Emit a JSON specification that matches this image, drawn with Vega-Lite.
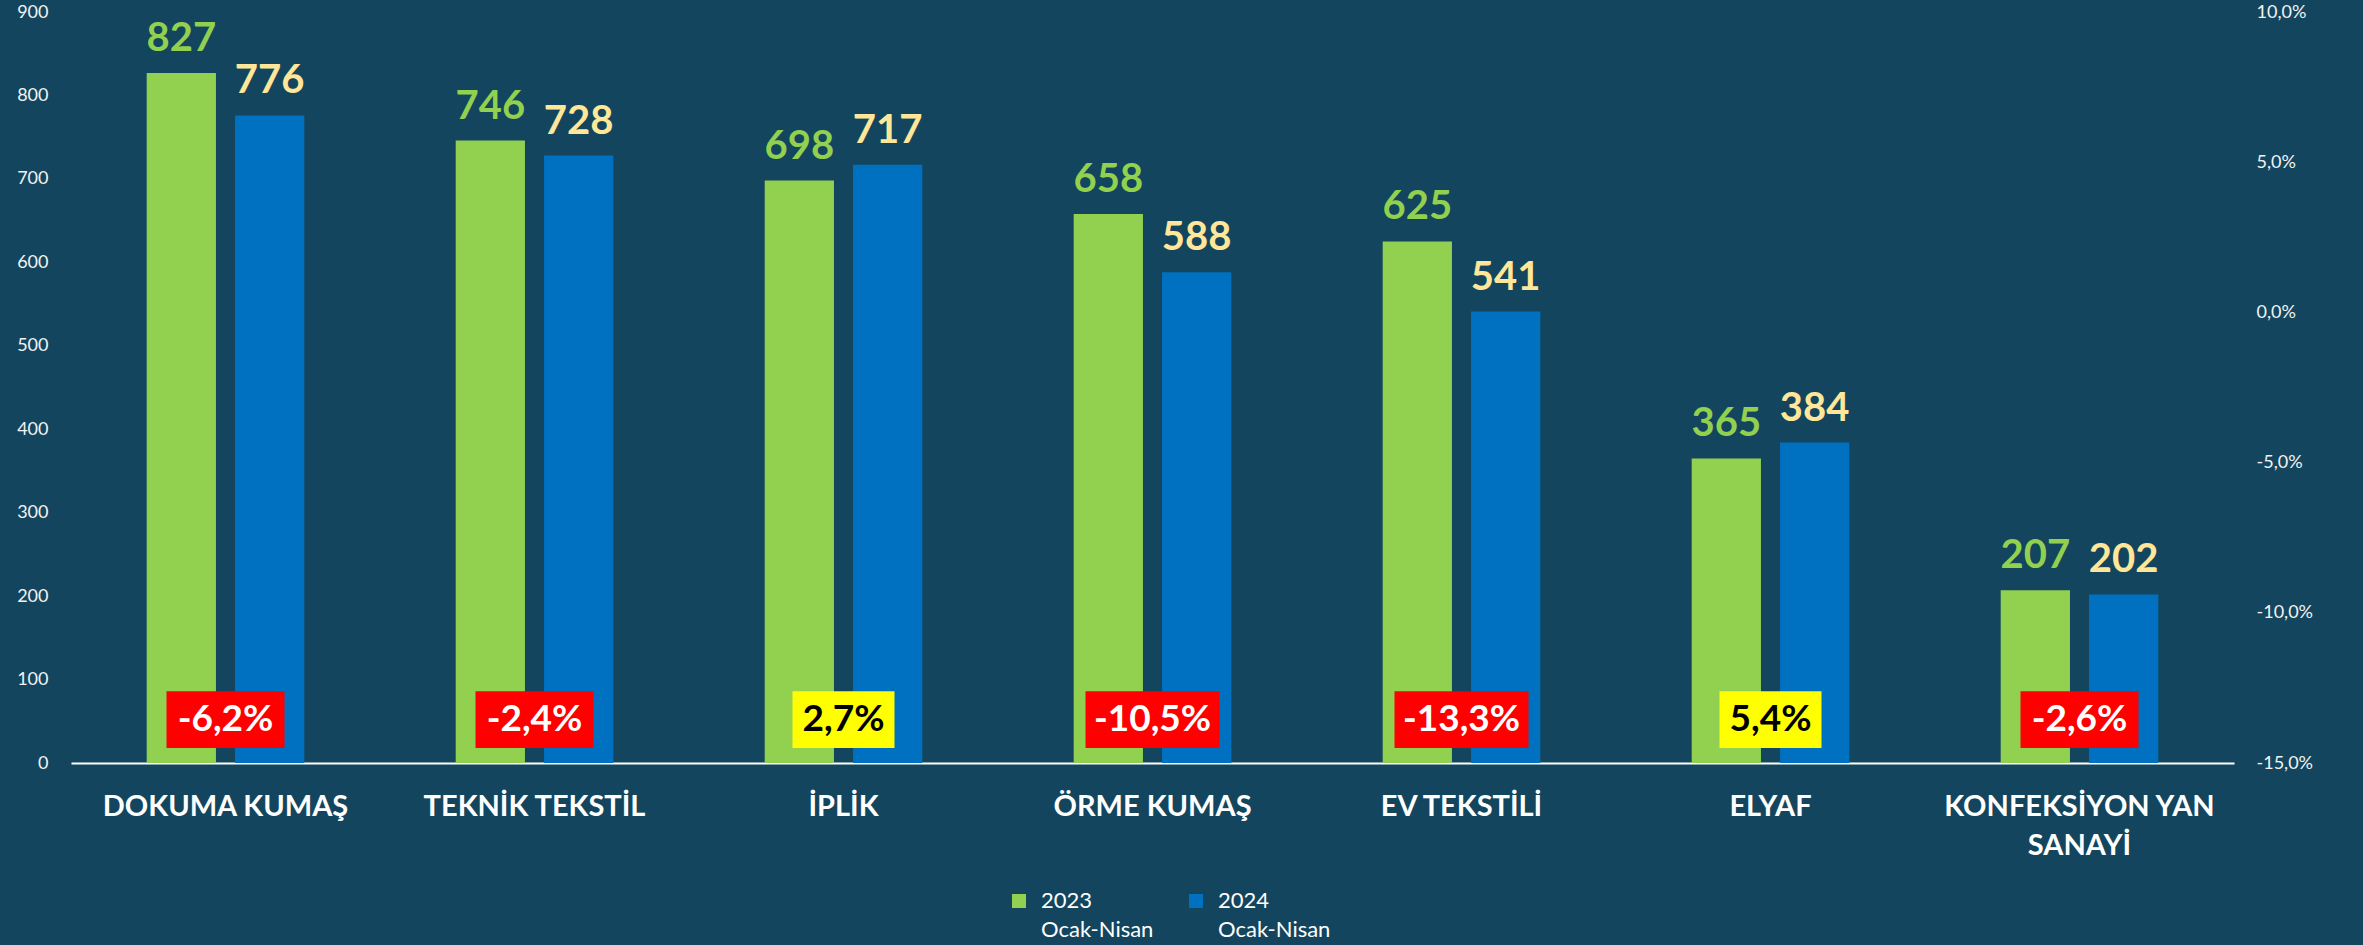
{
  "$schema": "https://vega.github.io/schema/vega-lite/v6.json",
  "width": 2163,
  "height": 751,
  "autosize": {"type": "none"},
  "padding": {"left": 71, "top": 12, "right": 129, "bottom": 182},
  "background": "#13465e",
  "config": {"font": "Lato", "view": {"stroke": null}},
  "datasets": {
    "ihracat": [
      {"kategori": "DOKUMA KUMAŞ", "donem": "2023 Ocak-Nisan", "deger": 827},
      {"kategori": "DOKUMA KUMAŞ", "donem": "2024 Ocak-Nisan", "deger": 776},
      {"kategori": "TEKNİK TEKSTİL", "donem": "2023 Ocak-Nisan", "deger": 746},
      {"kategori": "TEKNİK TEKSTİL", "donem": "2024 Ocak-Nisan", "deger": 728},
      {"kategori": "İPLİK", "donem": "2023 Ocak-Nisan", "deger": 698},
      {"kategori": "İPLİK", "donem": "2024 Ocak-Nisan", "deger": 717},
      {"kategori": "ÖRME KUMAŞ", "donem": "2023 Ocak-Nisan", "deger": 658},
      {"kategori": "ÖRME KUMAŞ", "donem": "2024 Ocak-Nisan", "deger": 588},
      {"kategori": "EV TEKSTİLİ", "donem": "2023 Ocak-Nisan", "deger": 625},
      {"kategori": "EV TEKSTİLİ", "donem": "2024 Ocak-Nisan", "deger": 541},
      {"kategori": "ELYAF", "donem": "2023 Ocak-Nisan", "deger": 365},
      {"kategori": "ELYAF", "donem": "2024 Ocak-Nisan", "deger": 384},
      {"kategori": "KONFEKSİYON YAN SANAYİ", "donem": "2023 Ocak-Nisan", "deger": 207},
      {"kategori": "KONFEKSİYON YAN SANAYİ", "donem": "2024 Ocak-Nisan", "deger": 202}
    ],
    "degisim": [
      {"kategori": "DOKUMA KUMAŞ", "degisim": -6.2, "etiket": "-6,2%"},
      {"kategori": "TEKNİK TEKSTİL", "degisim": -2.4, "etiket": "-2,4%"},
      {"kategori": "İPLİK", "degisim": 2.7, "etiket": "2,7%"},
      {"kategori": "ÖRME KUMAŞ", "degisim": -10.5, "etiket": "-10,5%"},
      {"kategori": "EV TEKSTİLİ", "degisim": -13.3, "etiket": "-13,3%"},
      {"kategori": "ELYAF", "degisim": 5.4, "etiket": "5,4%"},
      {"kategori": "KONFEKSİYON YAN SANAYİ", "degisim": -2.6, "etiket": "-2,6%"}
    ]
  },
  "encoding": {
    "x": {
      "field": "kategori", "type": "nominal", "sort": null,
      "scale": {"paddingInner": 0.49, "paddingOuter": 0.245},
      "axis": {
        "title": null, "domainColor": "#ffffff", "domainWidth": 2,
        "ticks": false, "tickSize": 0, "labelColor": "#ffffff",
        "labelFontSize": 29, "labelFontWeight": "bold", "labelPadding": 29,
        "labelAngle": 0, "labelLimit": 800, "labelLineHeight": 39,
        "labelOverlap": false, "labelBaseline": "top",
        "labelExpr": "datum.value === 'KONFEKSİYON YAN SANAYİ' ? ['KONFEKSİYON YAN', 'SANAYİ'] : datum.value"
      }
    }
  },
  "layer": [
    {
      "data": {"name": "ihracat"},
      "mark": {"type": "bar"},
      "encoding": {
        "xOffset": {"field": "donem", "type": "nominal", "scale": {"paddingInner": 0.216, "paddingOuter": 0}},
        "y": {
          "field": "deger", "type": "quantitative",
          "scale": {"domain": [0, 900], "nice": false},
          "axis": {
            "orient": "left", "title": null, "values": [0, 100, 200, 300, 400, 500, 600, 700, 800, 900],
            "grid": false, "domain": false, "ticks": false, "tickSize": 0,
            "labelColor": "#f2f2f2", "labelFontSize": 18, "labelPadding": 23
          }
        },
        "color": {
          "field": "donem", "type": "nominal",
          "scale": {"domain": ["2023 Ocak-Nisan", "2024 Ocak-Nisan"], "range": ["#92d050", "#0070c0"]},
          "legend": {
            "title": null, "orient": "none", "legendX": 937, "legendY": 878,
            "direction": "horizontal", "symbolType": "square", "symbolSize": 196,
            "symbolStrokeWidth": 0, "labelColor": "#ffffff", "labelFontSize": 22,
            "labelOffset": 11, "columnPadding": 31, "labelBaseline": "alphabetic",
            "labelExpr": "split(datum.value, ' ')",
            "encode": {"labels": {"update": {"dy": {"value": 7}, "lineHeight": {"value": 29}}}}
          }
        }
      }
    },
    {
      "data": {"name": "ihracat"},
      "mark": {"type": "text", "baseline": "alphabetic", "dy": -22, "fontSize": 40, "fontWeight": "bold"},
      "encoding": {
        "xOffset": {"field": "donem", "type": "nominal", "scale": {"paddingInner": 0.216, "paddingOuter": 0}},
        "y": {"field": "deger", "type": "quantitative", "scale": {"domain": [0, 900], "nice": false}, "axis": null},
        "text": {"field": "deger", "type": "quantitative"},
        "color": {"condition": {"test": "datum.donem === '2023 Ocak-Nisan'", "value": "#92d050"}, "value": "#ffe699"}
      }
    },
    {
      "data": {"name": "degisim"},
      "mark": {"type": "bar", "width": {"expr": "118 + (length(datum.etiket) - 5) * 16"}},
      "encoding": {
        "y": {"datum": 18, "type": "quantitative", "scale": {"domain": [0, 900], "nice": false}, "axis": null},
        "y2": {"datum": 86},
        "color": {"condition": {"test": "datum.degisim < 0", "value": "#ff0000"}, "value": "#ffff00"}
      }
    },
    {
      "data": {"name": "degisim"},
      "mark": {"type": "text", "baseline": "middle", "fontSize": 37, "fontWeight": "bold"},
      "encoding": {
        "y": {"datum": 52, "type": "quantitative", "scale": {"domain": [0, 900], "nice": false}, "axis": null},
        "text": {"field": "etiket", "type": "nominal"},
        "color": {"condition": {"test": "datum.degisim < 0", "value": "#ffffff"}, "value": "#000000"}
      }
    },
    {
      "data": {"name": "degisim"},
      "mark": {"type": "point", "opacity": 0},
      "encoding": {
        "y": {
          "field": "degisim", "type": "quantitative",
          "scale": {"domain": [-15, 10], "nice": false},
          "axis": {
            "orient": "right", "title": null, "values": [-15, -10, -5, 0, 5, 10],
            "grid": false, "domain": false, "ticks": false, "tickSize": 0,
            "labelColor": "#f2f2f2", "labelFontSize": 18, "labelPadding": 22,
            "labelExpr": "datum.value + ',0%'"
          }
        }
      }
    }
  ],
  "resolve": {"scale": {"y": "independent"}}
}
